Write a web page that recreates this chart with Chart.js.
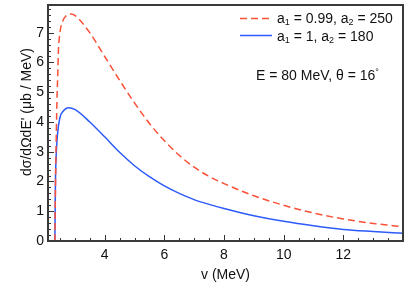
<!DOCTYPE html>
<html>
<head>
<meta charset="utf-8">
<script src="https://cdn.jsdelivr.net/npm/chart.js@4.4.0/dist/chart.umd.min.js"></script>
<style>
  html, body { margin: 0; padding: 0; background: #fff; }
</style>
</head>
<body>
<canvas id="myChart" width="409" height="289"></canvas>
<script>
// values
const vRed = [2.33, 2.36, 2.4, 2.43, 2.45, 2.5, 2.6, 2.7, 2.87, 3.0, 3.5, 4, 4.5, 5, 5.5, 6, 6.5, 7, 7.5, 8, 9, 10, 11, 12, 13, 14];
const sigmaRed = [0, 2.5, 4.7, 5.7, 6.4, 7.0, 7.4, 7.56, 7.63, 7.58, 7.0, 6.2, 5.4, 4.64, 3.95, 3.37, 2.88, 2.48, 2.17, 1.93, 1.52, 1.2, 0.94, 0.74, 0.59, 0.48];
const vBlue = [2.33, 2.35, 2.38, 2.42, 2.5, 2.6, 2.78, 3.0, 3.5, 4, 4.5, 5, 5.5, 6, 6.5, 7, 7.5, 8, 9, 10, 11, 12, 13, 14];
const sigmaBlue = [0, 2.0, 3.0, 3.6, 4.15, 4.35, 4.48, 4.42, 4.0, 3.5, 2.98, 2.53, 2.16, 1.85, 1.6, 1.39, 1.23, 1.09, 0.85, 0.66, 0.51, 0.39, 0.32, 0.26];
const xTicks = [4, 6, 8, 10, 12];
const yTicks = [0, 1, 2, 3, 4, 5, 6, 7];

const FONT = "'Liberation Sans', Arial, Helvetica, sans-serif";
const RED = "rgb(250, 80, 55)";
const BLUE = "rgb(45, 90, 250)";

function toPoints(xs, ys) {
  return xs.map((v, i) => ({ x: v, y: ys[i] }));
}

// text with subscripts, parts = [[text, isSub], ...]
function drawParts(ctx, parts, x, y) {
  let cx = x;
  parts.forEach(([txt, sub]) => {
    ctx.font = sub ? `9px ${FONT}` : `14px ${FONT}`;
    ctx.fillText(txt, cx, sub ? y + 4 : y);
    cx += ctx.measureText(txt).width;
  });
  return cx;
}

function noPadding(scale) {
  scale.paddingTop = 0;
  scale.paddingBottom = 0;
  scale.paddingLeft = 0;
  scale.paddingRight = 0;
}

const frameTicks = {
  id: "frameTicks",
  afterDraw(chart) {
    const { ctx, chartArea: a, scales: { x, y } } = chart;
    ctx.save();
    ctx.strokeStyle = "#333";
    ctx.lineWidth = 1;
    ctx.beginPath();
    for (let i = 5; i <= 28; i++) {
      const px = Math.round(x.getPixelForValue(i / 2)) + 0.5;
      if (px <= a.left || px >= a.right) continue;
      const len = i % 4 === 0 ? 6 : 3;
      ctx.moveTo(px, a.bottom);
      ctx.lineTo(px, a.bottom - len);
    }
    for (let i = 1; i <= 39; i++) {
      const py = Math.round(y.getPixelForValue(i / 5)) + 0.5;
      if (py <= a.top) continue;
      const len = i % 5 === 0 ? 6 : 3;
      ctx.moveTo(a.left, py);
      ctx.lineTo(a.left + len, py);
    }
    ctx.stroke();
    ctx.lineWidth = 2;
    ctx.strokeStyle = "#3a3a3a";
    ctx.strokeRect(a.left, a.top, a.width, a.height);

    // y title
    ctx.fillStyle = "#111";
    ctx.save();
    ctx.translate(27, 112);
    ctx.rotate(-Math.PI / 2);
    ctx.font = `14px ${FONT}`;
    ctx.textAlign = "center";
    ctx.textBaseline = "middle";
    ctx.fillText("d\u03c3/d\u03a9dE' (\u03bcb / MeV)", 0, 0);
    ctx.restore();

    // legend
    ctx.lineWidth = 1.5;
    ctx.strokeStyle = RED;
    ctx.setLineDash([7, 4]);
    ctx.beginPath();
    ctx.moveTo(240, 18.5);
    ctx.lineTo(272, 18.5);
    ctx.stroke();
    ctx.setLineDash([]);
    ctx.strokeStyle = BLUE;
    ctx.beginPath();
    ctx.moveTo(240, 35.5);
    ctx.lineTo(272, 35.5);
    ctx.stroke();

    ctx.textBaseline = "middle";
    ctx.textAlign = "left";
    drawParts(ctx, [["a", false], ["1", true], [" = 0.99, a", false], ["2", true], [" = 250", false]], 277, 19);
    drawParts(ctx, [["a", false], ["1", true], [" = 1, a", false], ["2", true], [" = 180", false]], 277, 37);
    const end = drawParts(ctx, [["E = 80 MeV, \u03b8 = 16", false]], 256, 76);
    ctx.font = `9px ${FONT}`;
    ctx.fillText("\u00b0", end, 73);
    ctx.restore();
  },
};

function createChart() {
  const ctx = document.getElementById("myChart");
  new Chart(ctx, {
    type: "line",
    data: {
      datasets: [
        {
          label: "a1 = 0.99, a2 = 250",
          data: toPoints(vRed, sigmaRed),
          borderColor: RED,
          borderWidth: 1.5,
          borderDash: [7, 4],
          pointRadius: 0,
          fill: false,
          cubicInterpolationMode: "monotone",
        },
        {
          label: "a1 = 1, a2 = 180",
          data: toPoints(vBlue, sigmaBlue),
          borderColor: BLUE,
          borderWidth: 1.5,
          pointRadius: 0,
          fill: false,
          cubicInterpolationMode: "monotone",
        },
      ],
    },
    options: {
      responsive: false,
      animation: false,
      devicePixelRatio: 1,
      layout: { padding: { top: 5, right: 6, left: 0, bottom: 0 } },
      plugins: { legend: { display: false }, tooltip: { enabled: false } },
      scales: {
        x: {
          type: "linear",
          min: 2.1,
          max: 14,
          grid: { display: false, drawTicks: false },
          border: { display: false },
          afterBuildTicks: (scale) => { scale.ticks = xTicks.map((v) => ({ value: v })); },
          afterFit: (scale) => { scale.height = 48; noPadding(scale); },
          ticks: { color: "#111", font: { family: FONT, size: 14 }, padding: 6, maxRotation: 0 },
          title: { display: true, text: "v (MeV)", color: "#111", font: { family: FONT, size: 14 }, padding: { top: 4, bottom: 5 } },
        },
        y: {
          min: 0,
          max: 7.93,
          grid: { display: false, drawTicks: false },
          border: { display: false },
          afterBuildTicks: (scale) => { scale.ticks = yTicks.map((v) => ({ value: v })); },
          afterFit: (scale) => { scale.width = 48; noPadding(scale); },
          ticks: { color: "#111", font: { family: FONT, size: 14 }, padding: 4 },
        },
      },
    },
    plugins: [frameTicks],
  });
}

window.addEventListener("load", function () {
  createChart();
});
</script>
</body>
</html>
